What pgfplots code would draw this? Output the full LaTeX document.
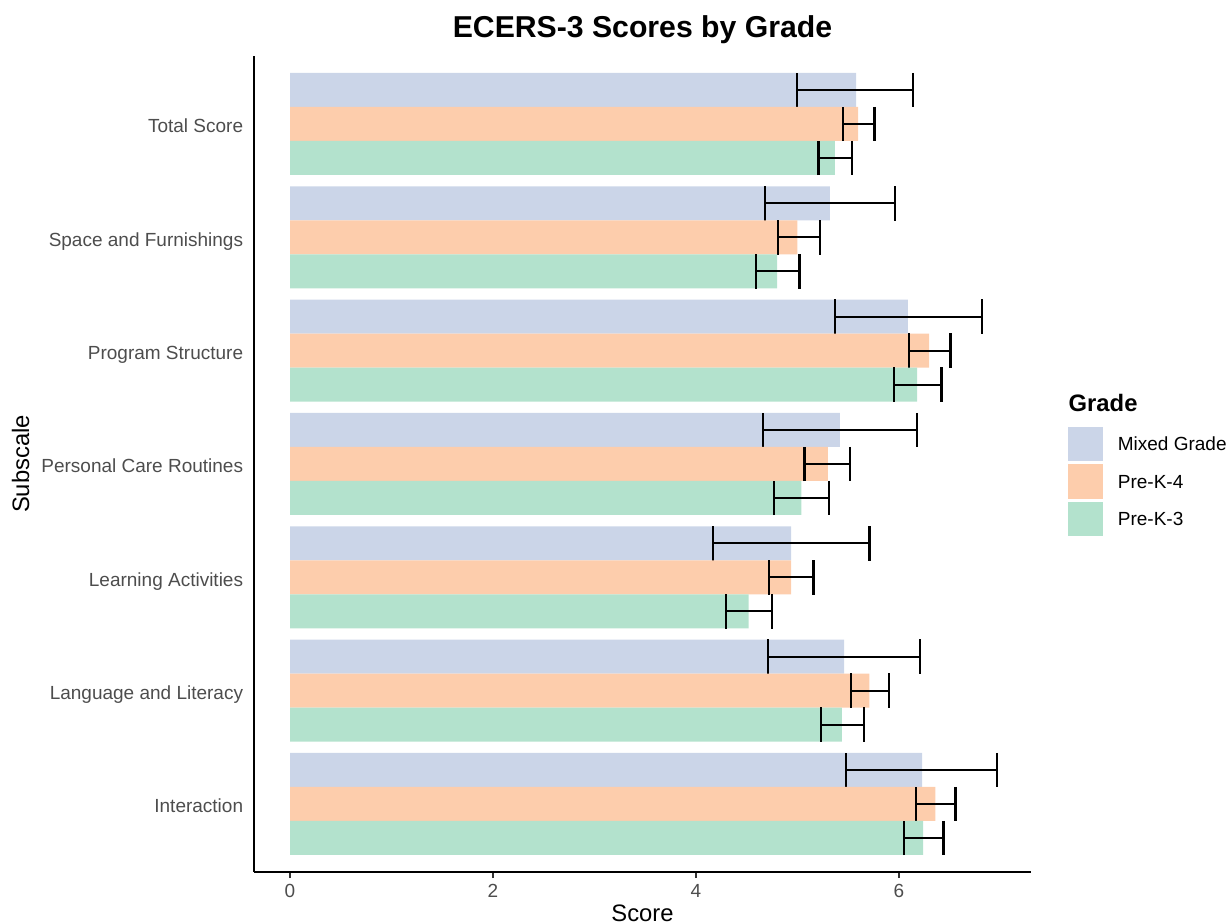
\documentclass[border=0pt]{standalone}
\usepackage{fontspec}
\setmainfont{Liberation Sans}
\usepackage{pgfplots}
\usepackage{pgfplotstable}
\pgfplotsset{compat=1.18}
\definecolor{cMix}{HTML}{CBD5E8}
\definecolor{cKf}{HTML}{FDCDAC}
\definecolor{cKt}{HTML}{B3E2CD}
\definecolor{tickgray}{HTML}{4D4D4D}
\definecolor{tickline}{HTML}{333333}

% y: category position (0 = Interaction ... 6 = Total Score) with dodge offset
\pgfplotstableread{
y x em ep
0.3 6.23 0.75 0.74
1.3 5.46 0.75 0.75
2.3 4.94 0.77 0.77
3.3 5.42 0.76 0.76
4.3 6.09 0.72 0.73
5.3 5.32 0.64 0.64
6.3 5.58 0.58 0.56
}\mixed
\pgfplotstableread{
y x em ep
0 6.36 0.19 0.20
1 5.71 0.18 0.19
2 4.94 0.22 0.22
3 5.30 0.23 0.22
4 6.30 0.20 0.21
5 5.00 0.19 0.22
6 5.60 0.15 0.16
}\pkfour
\pgfplotstableread{
y x em ep
-0.3 6.24 0.19 0.20
0.7 5.44 0.21 0.22
1.7 4.52 0.22 0.23
2.7 5.04 0.27 0.27
3.7 6.18 0.23 0.24
4.7 4.80 0.21 0.22
5.7 5.37 0.16 0.17
}\pkthree

\pgfplotsset{
  mybar/.style={
    xbar, bar width=0.3, bar shift=0pt, draw=none, fill=#1,
    error bars/.cd, x dir=both, x explicit, error mark=|,
    error bar style={draw=black, line width=1.15bp},
    error mark options={draw=black, line width=1.15bp, mark size=8.6bp},
    /pgfplots/.cd,
    legend image code/.code={%
      \path[fill=none, draw=none] (0bp,-9.375bp) rectangle (24.8bp,9.375bp);
      \fill[fill=#1, draw=none] (0bp,-8.6bp) rectangle (17.2bp,8.6bp);}
  }
}

\begin{document}
\begin{tikzpicture}
\begin{axis}[
  at={(0,0)}, anchor=south west,
  scale only axis, width=388.2bp, height=408bp,
  xmin=-0.352, xmax=7.30, ymin=-0.6, ymax=6.6,
  axis x line*=bottom, axis y line*=left,
  axis line style={line width=1.1bp, black, -},
  xtick={0,2,4,6}, ytick={0,1,2,3,4,5,6},
  yticklabels={Interaction, Language and Literacy, Learning Activities, Personal Care Routines, Program Structure, Space and Furnishings, Total Score},
  tick align=outside,
  major tick length=3bp,
  xtick style={line width=1bp, draw=tickline},
  ytick style={draw=none},
  ticklabel style={font=\fontsize{9.5bp}{11bp}\selectfont, text=tickgray},
  xticklabel style={anchor=north, inner sep=0pt, yshift=-3bp},
  yticklabel style={anchor=east, inner sep=0pt, xshift=-2.4bp, yshift=-1bp, text depth=0pt, text height=6.8bp},
  /pgf/number format/assume math mode=true,
  legend style={at={(1.0484,0.5476)}, anchor=north west, draw=none, fill=none,
    inner sep=0pt, outer sep=0pt, row sep=0pt, column sep=0pt,
    nodes={inner sep=0pt, anchor=west, yshift=-0.8bp},
    font=\fontsize{9.5bp}{11bp}\selectfont},
  legend cell align=left,
]
\addplot[mybar=cMix] table[x=x, y=y, x error minus=em, x error plus=ep] {\mixed};
\addlegendentry{Mixed Grade}
\addplot[mybar=cKf] table[x=x, y=y, x error minus=em, x error plus=ep] {\pkfour};
\addlegendentry{Pre-K-4}
\addplot[mybar=cKt] table[x=x, y=y, x error minus=em, x error plus=ep] {\pkthree};
\addlegendentry{Pre-K-3}
\end{axis}
\node[anchor=base, font=\fontsize{15.1bp}{17bp}\selectfont\bfseries] at (194.1bp,417.35bp) {ECERS-3 Scores by Grade};
\node[anchor=base, font=\fontsize{11.9bp}{14bp}\selectfont] at (194.1bp,-24.6bp) {Score};
\node[anchor=base, rotate=90, font=\fontsize{11.9bp}{14bp}\selectfont] at (-112.6bp,204bp) {Subscale};
\node[anchor=base west, inner sep=0pt, font=\fontsize{11.9bp}{14bp}\selectfont\bfseries] at (407bp,230.15bp) {Grade};
\pgfresetboundingbox
\useasboundingbox (-127.15bp,-26bp) rectangle (486.35bp,436bp);
\end{tikzpicture}
\end{document}
